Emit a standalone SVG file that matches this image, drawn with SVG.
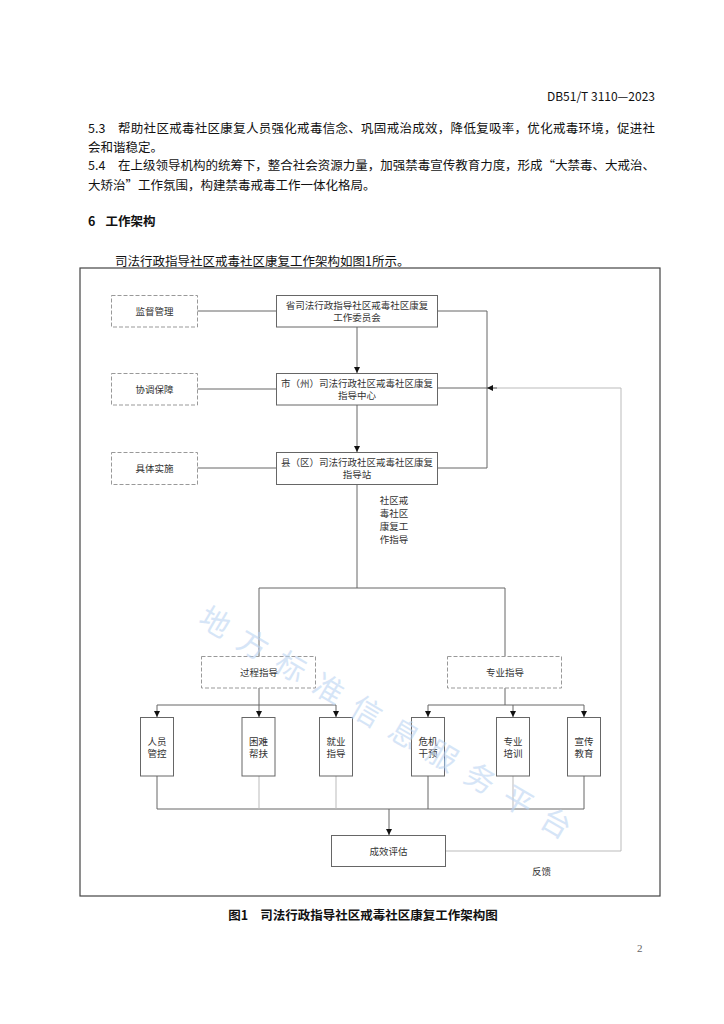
<svg xmlns="http://www.w3.org/2000/svg" width="724" height="1024" viewBox="0 0 724 1024">
<defs>
<style>
.body{font-family:"Noto Sans CJK SC","Liberation Sans",sans-serif;font-size:12.5px;fill:#111}
.hd{font-family:"Noto Sans CJK SC","Liberation Sans",sans-serif;fill:#111}
.t{font-family:"Noto Sans CJK SC",sans-serif;font-size:9.5px;fill:#333;text-anchor:middle}
.box{fill:#fff;stroke:#666;stroke-width:1}
.dbox{fill:#fff;stroke:#999;stroke-width:1;stroke-dasharray:4 2}
.ln{fill:none;stroke:#666;stroke-width:1}
.lt{fill:none;stroke:#bbb;stroke-width:1}
.wm{font-family:"Noto Sans CJK SC",sans-serif;font-size:30px;fill:#bcd5f3;opacity:0.6}
</style>
<marker id="ah" viewBox="0 0 10 10" refX="10" refY="5" markerWidth="6" markerHeight="6" markerUnits="userSpaceOnUse" orient="auto">
<path d="M0,0 L10,5 L0,10 z" fill="#111"/>
</marker>
</defs>
<rect width="724" height="1024" fill="#fff"/>

<text class="hd" x="655" y="101" font-size="12" text-anchor="end">DB51/T 3110—2023</text>
<text class="body" x="88" y="133">5.3</text>
<text class="body" x="118" y="133" textLength="537" lengthAdjust="spacing">帮助社区戒毒社区康复人员强化戒毒信念、巩固戒治成效，降低复吸率，优化戒毒环境，促进社</text>
<text class="body" x="88" y="152">会和谐稳定。</text>
<text class="body" x="88" y="170">5.4</text>
<text class="body" x="118" y="170" textLength="537" lengthAdjust="spacing">在上级领导机构的统筹下，整合社会资源力量，加强禁毒宣传教育力度，形成“大禁毒、大戒治、</text>
<text class="body" x="88" y="190">大矫治”工作氛围，构建禁毒戒毒工作一体化格局。</text>
<text class="hd" x="88" y="226" font-size="12.5" font-weight="bold">6<tspan dx="10">工作架构</tspan></text>
<text class="body" x="115" y="265.5">司法行政指导社区戒毒社区康复工作架构如图1所示。</text>

<rect x="80" y="268" width="580" height="628" fill="none" stroke="#444" stroke-width="1.2"/>

<g id="connectors">
<path class="ln" d="M197,311 H276"/>
<path class="ln" d="M197,389 H276"/>
<path class="ln" d="M197,468 H276"/>
<path class="ln" d="M437,311 H487 V468 H437"/>
<path class="ln" d="M437,388 H487"/>
<path class="ln" d="M357,327 V373" marker-end="url(#ah)"/>
<path class="ln" d="M357,405 V452" marker-end="url(#ah)"/>
<path class="ln" d="M357,485 V588 M259,588 H505 M259,588 V656 M505,588 V656"/>
<path class="ln" d="M259,688 V705 M157,705 H336 M505,688 V705 M428,705 H584"/>
<path class="ln" d="M157,705 V717" marker-end="url(#ah)"/>
<path class="ln" d="M259,705 V717" marker-end="url(#ah)"/>
<path class="ln" d="M336,705 V717" marker-end="url(#ah)"/>
<path class="ln" d="M428,705 V717" marker-end="url(#ah)"/>
<path class="ln" d="M513,705 V717" marker-end="url(#ah)"/>
<path class="ln" d="M584,705 V717" marker-end="url(#ah)"/>
<path class="ln" d="M157,776 V809 H584 M428,776 V809 M584,776 V809"/>
<path class="lt" d="M259,776 V809 M336,776 V809 M513,776 V809"/>
<path class="ln" d="M389,809 V835" marker-end="url(#ah)"/>
<path class="lt" d="M445,851 H621 V388 H492"/>
<path class="ln" d="M497,388 H487" marker-end="url(#ah)"/>
</g>

<g id="n-jiandu"><rect class="dbox" x="111.5" y="295.5" width="86" height="31.5"/><text class="t" x="154.5" y="314.5">监督管理</text></g>
<g id="n-sheng"><rect class="box" x="276.5" y="295.5" width="161" height="31.5"/><text class="t" x="357" y="308.5">省司法行政指导社区戒毒社区康复</text><text class="t" x="357" y="320.5">工作委员会</text></g>
<g id="n-xietiao"><rect class="dbox" x="111.5" y="373.5" width="86" height="31.5"/><text class="t" x="154.5" y="392.5">协调保障</text></g>
<g id="n-shi"><rect class="box" x="276.5" y="373.5" width="161" height="31.5"/><text class="t" x="357" y="386.5">市（州）司法行政社区戒毒社区康复</text><text class="t" x="357" y="398.5">指导中心</text></g>
<g id="n-juti"><rect class="dbox" x="111.5" y="452.5" width="86" height="32"/><text class="t" x="154.5" y="471.5">具体实施</text></g>
<g id="n-xian"><rect class="box" x="276.5" y="452.5" width="161" height="32"/><text class="t" x="357" y="465.5">县（区）司法行政社区戒毒社区康复</text><text class="t" x="357" y="477.5">指导站</text></g>
<g id="n-label"><text class="t" x="394" y="504">社区戒</text><text class="t" x="394" y="517">毒社区</text><text class="t" x="394" y="530">康复工</text><text class="t" x="394" y="543">作指导</text></g>
<g id="n-guocheng"><rect class="dbox" x="201.5" y="656.5" width="114" height="31.5"/><text class="t" x="259" y="675.5">过程指导</text></g>
<g id="n-zhuanye"><rect class="dbox" x="447.5" y="656.5" width="114" height="31.5"/><text class="t" x="505" y="675.5">专业指导</text></g>
<g id="n-renyuan"><rect class="box" x="140.5" y="717.5" width="33" height="58.5"/><text class="t" x="157" y="745">人员</text><text class="t" x="157" y="757">管控</text></g>
<g id="n-kunnan"><rect class="box" x="242" y="717.5" width="33" height="58.5"/><text class="t" x="258.5" y="745">困难</text><text class="t" x="258.5" y="757">帮扶</text></g>
<g id="n-jiuye"><rect class="box" x="319.5" y="717.5" width="33" height="58.5"/><text class="t" x="336" y="745">就业</text><text class="t" x="336" y="757">指导</text></g>
<g id="n-weiji"><rect class="box" x="411.5" y="717.5" width="33" height="58.5"/><text class="t" x="428" y="745">危机</text><text class="t" x="428" y="757">干预</text></g>
<g id="n-peixun"><rect class="box" x="496.5" y="717.5" width="33" height="58.5"/><text class="t" x="513" y="745">专业</text><text class="t" x="513" y="757">培训</text></g>
<g id="n-xuanchuan"><rect class="box" x="567.5" y="717.5" width="33" height="58.5"/><text class="t" x="584" y="745">宣传</text><text class="t" x="584" y="757">教育</text></g>
<g id="n-chengxiao"><rect class="box" x="331.5" y="835.5" width="114" height="31"/><text class="t" x="388.5" y="854.5">成效评估</text></g>
<g id="n-fankui"><text class="t" x="541.5" y="875">反馈</text></g>

<text class="wm" transform="translate(215,622) rotate(30.5)" x="-15" y="11" letter-spacing="14">地方标准信息服务平台</text>

<text class="hd" x="363" y="920" font-size="12.5" font-weight="bold" text-anchor="middle">图1<tspan dx="12">司法行政指导社区戒毒社区康复工作架构图</tspan></text>
<text x="637" y="952" font-family="Liberation Serif,serif" font-size="11" fill="#666">2</text>
</svg>
